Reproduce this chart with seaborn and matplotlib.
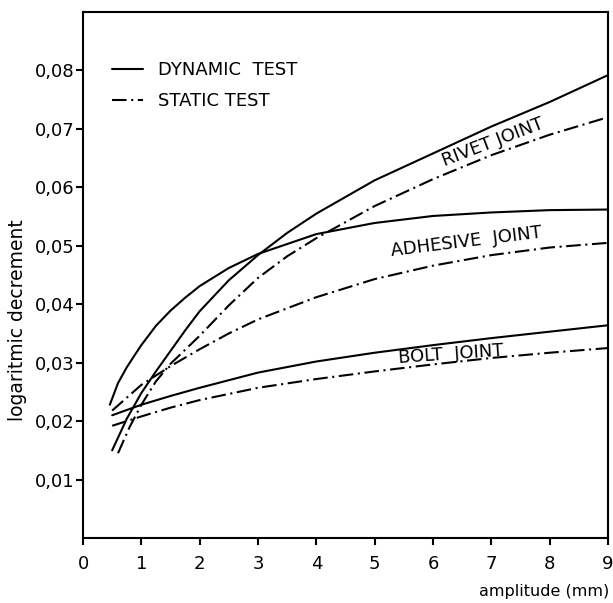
import numpy as np
import pandas as pd
import matplotlib
matplotlib.use("Agg")
import matplotlib.pyplot as plt
import seaborn as sns
from matplotlib.lines import Line2D

# ---- data ----
rivet_dyn_x = [0.5, 0.75, 1.0, 1.25, 1.5, 1.75, 2.0, 2.5, 3.0, 3.5, 4.0, 5.0, 6.0, 7.0, 8.0, 9.0]
rivet_dyn_y = [0.0150, 0.0204, 0.0248, 0.0285, 0.0320, 0.0355, 0.0388, 0.0441, 0.0484,
               0.0522, 0.0555, 0.0612, 0.0658, 0.0704, 0.0746, 0.0792]

rivet_sta_x = [0.6, 0.8, 1.0, 1.25, 1.5, 1.75, 2.0, 2.5, 3.0, 3.5, 4.0, 5.0, 6.0, 7.0, 8.0, 9.0]
rivet_sta_y = [0.0145, 0.0190, 0.0228, 0.0268, 0.0298, 0.0322, 0.0346, 0.0398, 0.0445,
               0.0482, 0.0513, 0.0568, 0.0614, 0.0655, 0.0690, 0.0720]

adh_dyn_x = [0.46, 0.6, 0.75, 0.9, 1.0, 1.25, 1.5, 1.75, 2.0, 2.5, 3.0, 4.0, 5.0, 6.0, 7.0, 8.0, 9.0]
adh_dyn_y = [0.0228, 0.0265, 0.0292, 0.0315, 0.0330, 0.0363, 0.0389, 0.0411, 0.0431,
             0.0462, 0.0486, 0.0520, 0.0539, 0.0551, 0.0557, 0.0561, 0.0562]

adh_sta_x = [0.5, 1.0, 1.5, 2.0, 2.5, 3.0, 4.0, 5.0, 6.0, 7.0, 8.0, 9.0]
adh_sta_y = [0.0218, 0.0262, 0.0294, 0.0323, 0.0350, 0.0374, 0.0412, 0.0443, 0.0466,
             0.0484, 0.0497, 0.0505]

bolt_dyn_x = [0.5, 1.0, 1.5, 2.0, 3.0, 4.0, 5.0, 6.0, 7.0, 8.0, 9.0]
bolt_dyn_y = [0.0210, 0.0228, 0.0243, 0.0257, 0.0283, 0.0302, 0.0317, 0.0330, 0.0342,
              0.0353, 0.0364]

bolt_sta_x = [0.5, 1.0, 1.5, 2.0, 3.0, 4.0, 5.0, 6.0, 7.0, 8.0, 9.0]
bolt_sta_y = [0.0192, 0.0208, 0.0223, 0.0236, 0.0257, 0.0272, 0.0285, 0.0297, 0.0308,
              0.0317, 0.0325]

tests = ["DYNAMIC TEST", "STATIC TEST"]
legend_labels = ["DYNAMIC  TEST", "STATIC TEST"]
x_ticks = [0, 1, 2, 3, 4, 5, 6, 7, 8, 9]
x_tick_labels = ["0", "1", "2", "3", "4", "5", "6", "7", "8", "9"]
y_ticks = [0.01, 0.02, 0.03, 0.04, 0.05, 0.06, 0.07, 0.08]
y_tick_labels = ["0,01", "0,02", "0,03", "0,04", "0,05", "0,06", "0,07", "0,08"]

series = [
    ("RIVET JOINT", "DYNAMIC TEST", rivet_dyn_x, rivet_dyn_y),
    ("RIVET JOINT", "STATIC TEST", rivet_sta_x, rivet_sta_y),
    ("ADHESIVE JOINT", "DYNAMIC TEST", adh_dyn_x, adh_dyn_y),
    ("ADHESIVE JOINT", "STATIC TEST", adh_sta_x, adh_sta_y),
    ("BOLT JOINT", "DYNAMIC TEST", bolt_dyn_x, bolt_dyn_y),
    ("BOLT JOINT", "STATIC TEST", bolt_sta_x, bolt_sta_y),
]
df = pd.concat(
    [pd.DataFrame({"amplitude": xs, "decrement": ys, "joint": j, "test": t})
     for j, t, xs, ys in series],
    ignore_index=True,
)

# ---- style ----
sns.set_style("ticks")
plt.rcParams["font.family"] = ["DejaVu Sans"]
plt.rcParams.update({
    "font.size": 13,
    "text.color": "black",
    "axes.labelcolor": "black",
    "xtick.color": "black",
    "ytick.color": "black",
    "axes.edgecolor": "black",
})

DASHDOT = (7, 2.2, 1, 2.2)
LW = 1.5

fig = plt.figure(figsize=(6.13, 6.03), dpi=100)
ax = fig.add_axes([0.1354, 0.1078, 0.8564, 0.8723])

sns.lineplot(
    data=df, x="amplitude", y="decrement", style="test", units="joint",
    estimator=None, sort=False, color="black", linewidth=LW,
    dashes={"DYNAMIC TEST": "", "STATIC TEST": DASHDOT},
    style_order=tests, legend=False, ax=ax,
)

ax.set_xlim(0, 9)
ax.set_ylim(0, 0.09)
ax.set_xticks(x_ticks)
ax.set_xticklabels(x_tick_labels)
ax.set_yticks(y_ticks)
ax.set_yticklabels(y_tick_labels)
ax.tick_params(axis="both", direction="out", length=5, width=1.5, colors="black",
               labelsize=13)
ax.tick_params(axis="x", pad=7)
ax.tick_params(axis="y", pad=1)
for sp in ax.spines.values():
    sp.set_visible(True)
    sp.set_linewidth(1.5)
    sp.set_color("black")

ax.set_xlabel("amplitude (mm)", fontsize=11.5, ha="right", va="center")
ax.xaxis.set_label_coords(1.003, -0.101)
ax.set_ylabel("logaritmic decrement", fontsize=13.5)
ax.yaxis.set_label_coords(-0.106, 0.414)

# legend
handles = [
    Line2D([], [], color="black", lw=LW),
    Line2D([], [], color="black", lw=LW, linestyle=(0, DASHDOT)),
]
ax.legend(handles, legend_labels, loc="upper left", bbox_to_anchor=(0.055, 0.906),
          frameon=False, borderpad=0, borderaxespad=0, handlelength=1.72,
          handletextpad=0.83, labelspacing=0.69, fontsize=13)

# curve labels
ax.text(7.03, 0.0677, "RIVET JOINT", rotation=21, ha="center", va="center", fontsize=13)
ax.text(6.57, 0.0507, "ADHESIVE  JOINT", rotation=7, ha="center", va="center", fontsize=13)
ax.text(6.3, 0.0315, "BOLT  JOINT", rotation=4, ha="center", va="center", fontsize=13)

fig.savefig("out.png", dpi=100)
